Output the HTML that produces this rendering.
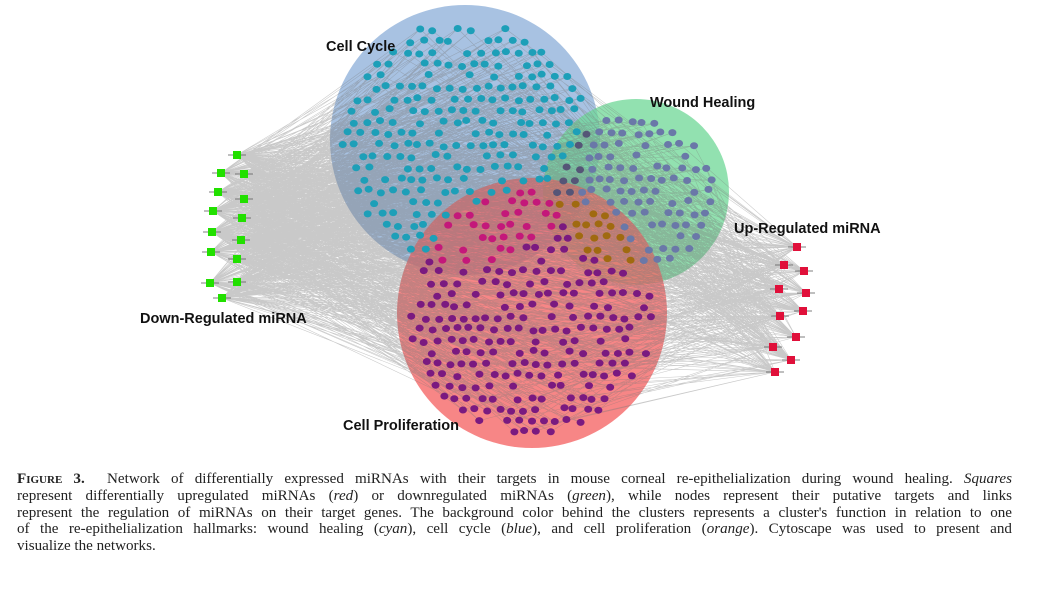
<!DOCTYPE html>
<html><head><meta charset="utf-8"><style>
body{margin:0;background:#fff;width:1044px;height:604px;overflow:hidden;position:relative;font-family:"Liberation Serif",serif}
#cap{position:absolute;left:17px;top:471px;width:995px;font-size:15.1px;line-height:16.8px;color:#222}
#cap div{text-align:justify;text-align-last:justify;white-space:nowrap}
#cap div.l{text-align-last:left}
.sc{font-variant:small-caps;font-weight:bold}
svg text{font-family:"Liberation Sans",sans-serif;font-weight:bold;font-size:14.5px;fill:#111}
</style></head><body>
<svg id="s" width="1044" height="470" style="position:absolute;left:0;top:0"></svg>
<div id="cap">
<div><span class="sc">Figure 3.</span>&nbsp; Network of differentially expressed miRNAs with their targets in mouse corneal re-epithelialization during wound healing. <i>Squares</i></div>
<div>represent differentially upregulated miRNAs (<i>red</i>) or downregulated miRNAs (<i>green</i>), while nodes represent their putative targets and links</div>
<div>represent the regulation of miRNAs on their target genes. The background color behind the clusters represents a cluster's function in relation to one</div>
<div>of the re-epithelialization hallmarks: wound healing (<i>cyan</i>), cell cycle (<i>blue</i>), and cell proliferation (<i>orange</i>). Cytoscape was used to present and</div>
<div class="l">visualize the networks.</div>
</div>
<script>
var s=document.getElementById('s'),h='';
var seed=7;function r(){seed=(seed*16807)%2147483647;return seed/2147483647;}
var L=[[237,155],[221,173],[244,174],[218,192],[244,199],[213,211],[242,218],[212,232],[241,240],[211,252],[237,259],[210,283],[237,282],[222,298]];
var R=[[797,247],[784,265],[804,271],[779,289],[806,293],[780,316],[803,311],[796,337],[773,347],[791,360],[775,372]];
var CC=[465,140,135],WH=[636,192,93],CP=[532,313,135];
function inC(x,y,c){return (x-c[0])*(x-c[0])+(y-c[1])*(y-c[1])<c[2]*c[2];}
h+='<circle cx="465" cy="140" r="135" fill="#a8c2e2"/>';
h+='<circle cx="636" cy="192" r="93" fill="rgba(110,215,150,0.75)"/>';
h+='<circle cx="532" cy="313" r="135" fill="rgba(245,100,100,0.78)"/>';
var nodes=[];
for(var y=30;y<440;y+=11.5){for(var x=340;x<720;x+=12.5){
 var xx=x+(r()-0.5)*5+((y/11.5)%2)*6,yy=y+(r()-0.5)*4;
 var a=inC(xx,yy,[CC[0],CC[1],CC[2]-12]),b=inC(xx,yy,[WH[0],WH[1],WH[2]-14]),c=inC(xx,yy,[CP[0],CP[1],CP[2]-12]);
 var col=null;
 if(c&&b)col='#a06a10';else if(c&&a)col='#c4187a';else if(c)col='#7a1a80';else if(b&&a)col='#557';else if(b)col='#6a78a8';else if(a)col='#1d9fb8';
 if(col&&r()<0.8)nodes.push([xx,yy,col]);
}}
var ln='';
for(var i=0;i<nodes.length;i++){var n=nodes[i];
 for(var k=0;k<2;k++){var p=L[Math.floor(r()*L.length)];ln+='M'+p[0]+' '+p[1]+'L'+n[0].toFixed(1)+' '+n[1].toFixed(1);}
 if(r()<0.8){var q=R[Math.floor(r()*R.length)];ln+='M'+q[0]+' '+q[1]+'L'+n[0].toFixed(1)+' '+n[1].toFixed(1);}
}
h+='<path d="'+ln+'" stroke="rgba(120,120,120,0.4)" stroke-width="0.55" fill="none"/>';
for(i=0;i<nodes.length;i++){var n=nodes[i];h+='<ellipse cx="'+n[0]+'" cy="'+n[1]+'" rx="4" ry="3.5" fill="'+n[2]+'"/>';}
L.forEach(function(p){h+='<line x1="'+(p[0]-9)+'" y1="'+p[1]+'" x2="'+(p[0]+9)+'" y2="'+p[1]+'" stroke="#555" stroke-width="0.8"/><rect x="'+(p[0]-4)+'" y="'+(p[1]-4)+'" width="8" height="8" fill="#22e000"/>';});
R.forEach(function(p){h+='<line x1="'+(p[0]-9)+'" y1="'+p[1]+'" x2="'+(p[0]+9)+'" y2="'+p[1]+'" stroke="#555" stroke-width="0.8"/><rect x="'+(p[0]-4)+'" y="'+(p[1]-4)+'" width="8" height="8" fill="#e0103a"/>';});
h+='<text x="326" y="51">Cell Cycle</text><text x="650" y="107">Wound Healing</text><text x="734" y="233">Up-Regulated miRNA</text><text x="140" y="323">Down-Regulated miRNA</text><text x="343" y="430">Cell Proliferation</text>';
s.innerHTML=h;
</script>
</body></html>
